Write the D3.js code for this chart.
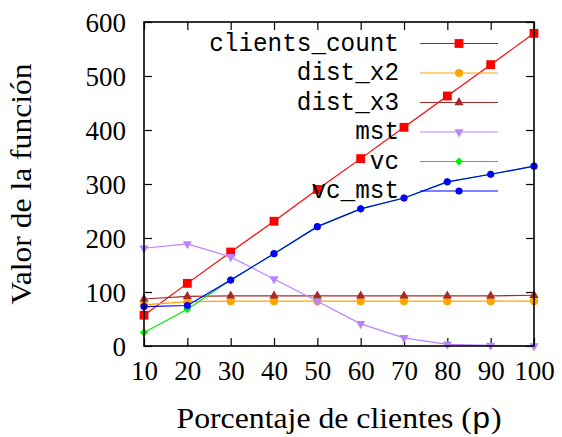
<!DOCTYPE html>
<html>
<head>
<meta charset="utf-8">
<script src="https://cdn.jsdelivr.net/npm/d3@7"></script>
<style>
  html, body { margin: 0; padding: 0; background: #fff; }
  svg { display: block; }
</style>
</head>
<body>
<svg id="chart" width="562" height="437"></svg>
<script>
// Percentage of clients (x axis)
const percentages = [10, 20, 30, 40, 50, 60, 70, 80, 90, 100];

// Function value for each method
const clientsCount = [57, 116, 174, 231, 290, 347, 405, 463, 521, 579];
const distX2 = [76, 82, 83, 83, 83, 83, 83, 83, 83, 83];
const distX3 = [87, 92, 93, 93, 93, 93, 93, 93, 93, 94];
const mst = [181, 189, 165, 124, 83, 41, 15, 3, 1, 0];
const vc = [25, 68, 122, 171, 221, 254, 274, 304, 318, 333];
const vcMst = [73, 75, 122, 171, 221, 254, 274, 304, 318, 333];

const yTicks = [0, 100, 200, 300, 400, 500, 600];
const xTicks = [10, 20, 30, 40, 50, 60, 70, 80, 90, 100];

const seriesNames = ["clients_count", "dist_x2", "dist_x3", "mst", "vc", "vc_mst"];
const seriesValues = [clientsCount, distX2, distX3, mst, vc, vcMst];
const seriesColors = ["#ff0000", "#ffa500", "#a52a2a", "#b983ff", "#00ee00", "#0000ff"];
const seriesMarkers = ["square", "circle", "triUp", "triDown", "diamond", "circleSmall"];

const svg = d3.select("#chart");
const plot = { left: 144, right: 534, top: 22, bottom: 346 };

const x = d3.scaleLinear().domain([10, 100]).range([plot.left, plot.right]);
const y = d3.scaleLinear().domain([0, 600]).range([plot.bottom, plot.top]);

const serif = "'Liberation Serif', 'Times New Roman', serif";
const mono = "'Liberation Mono', 'DejaVu Sans Mono', monospace";

// Axes with inward ticks on all four sides
const tickLen = 8;
const axisStyle = g => {
  g.select(".domain").remove();
  g.selectAll(".tick line").attr("stroke", "#000").attr("stroke-width", 1.2);
};

svg.append("g")
  .attr("transform", `translate(0,${plot.bottom})`)
  .call(d3.axisBottom(x).tickValues(xTicks).tickSize(-tickLen).tickPadding(14).tickFormat(d3.format("d")))
  .call(axisStyle)
  .call(g => g.selectAll(".tick text")
    .attr("font-family", serif).attr("font-size", 27).attr("fill", "#000")
    .attr("dy", "0.75em"));

svg.append("g")
  .attr("transform", `translate(0,${plot.top})`)
  .call(d3.axisTop(x).tickValues(xTicks).tickSize(-tickLen).tickFormat(""))
  .call(axisStyle);

svg.append("g")
  .attr("transform", `translate(${plot.left},0)`)
  .call(d3.axisLeft(y).tickValues(yTicks).tickSize(-tickLen).tickPadding(18).tickFormat(d3.format("d")))
  .call(axisStyle)
  .call(g => g.selectAll(".tick text")
    .attr("font-family", serif).attr("font-size", 27).attr("fill", "#000")
    .attr("dy", "0.34em"));

svg.append("g")
  .attr("transform", `translate(${plot.right},0)`)
  .call(d3.axisRight(y).tickValues(yTicks).tickSize(-tickLen).tickFormat(""))
  .call(axisStyle);

// Marker shapes
function markerPath(kind) {
  switch (kind) {
    case "square": return d3.symbol(d3.symbolSquare, 78)();
    case "circle": return d3.symbol(d3.symbolCircle, 52)();
    case "circleSmall": return d3.symbol(d3.symbolCircle, 40)();
    case "triUp": return "M0,-5.4L4.6,2.8L-4.6,2.8Z";
    case "triDown": return "M0,5.4L4.6,-2.8L-4.6,-2.8Z";
    case "diamond": return "M0,-4L4,0L0,4L-4,0Z";
  }
}

const line = d3.line().x(d => x(d[0])).y(d => y(d[1]));

// Data series
seriesValues.forEach((vals, i) => {
  const pts = percentages.map((p, j) => [p, vals[j]]);
  const g = svg.append("g").attr("class", "series");
  g.append("path")
    .datum(pts)
    .attr("d", line)
    .attr("fill", "none")
    .attr("stroke", seriesColors[i])
    .attr("stroke-width", 1.2);
  g.selectAll("path.pt")
    .data(pts)
    .join("path")
    .attr("class", "pt")
    .attr("transform", d => `translate(${x(d[0])},${y(d[1])})`)
    .attr("d", markerPath(seriesMarkers[i]))
    .attr("fill", seriesColors[i]);
});

// Legend
const legend = svg.append("g");
const legTextX = 399, legLineX0 = 420, legLineX1 = 498, legMarkX = 459;
const legY0 = 43.5, legDy = 29.5;
seriesNames.forEach((name, i) => {
  const yy = legY0 + i * legDy;
  legend.append("text")
    .attr("x", legTextX).attr("y", yy + 7)
    .attr("text-anchor", "end")
    .attr("font-family", mono).attr("font-size", 25)
    .attr("textLength", name.length * 14.6)
    .attr("lengthAdjust", "spacingAndGlyphs")
    .attr("fill", "#000")
    .text(name);
  legend.append("line")
    .attr("x1", legLineX0).attr("x2", legLineX1)
    .attr("y1", yy).attr("y2", yy)
    .attr("stroke", seriesColors[i]).attr("stroke-width", 1.2);
  legend.append("path")
    .attr("transform", `translate(${legMarkX},${yy})`)
    .attr("d", markerPath(seriesMarkers[i]))
    .attr("fill", seriesColors[i]);
});

// Plot frame
svg.append("rect")
  .attr("x", plot.left).attr("y", plot.top)
  .attr("width", plot.right - plot.left).attr("height", plot.bottom - plot.top)
  .attr("fill", "none").attr("stroke", "#000").attr("stroke-width", 1.6);

// Axis titles
const xTitle = svg.append("text")
  .attr("x", (plot.left + plot.right) / 2).attr("y", 428)
  .attr("text-anchor", "middle")
  .attr("font-family", serif).attr("font-size", 29).attr("fill", "#000")
  .attr("textLength", 325).attr("lengthAdjust", "spacingAndGlyphs");
xTitle.append("tspan").text("Porcentaje de clientes (");
xTitle.append("tspan").attr("font-family", mono).text("p");
xTitle.append("tspan").text(")");

svg.append("text")
  .attr("transform", `translate(31,${(plot.top + plot.bottom) / 2}) rotate(-90)`)
  .attr("text-anchor", "middle")
  .attr("font-family", serif).attr("font-size", 29).attr("fill", "#000")
  .attr("textLength", 241).attr("lengthAdjust", "spacingAndGlyphs")
  .text("Valor de la función");
</script>
</body>
</html>
